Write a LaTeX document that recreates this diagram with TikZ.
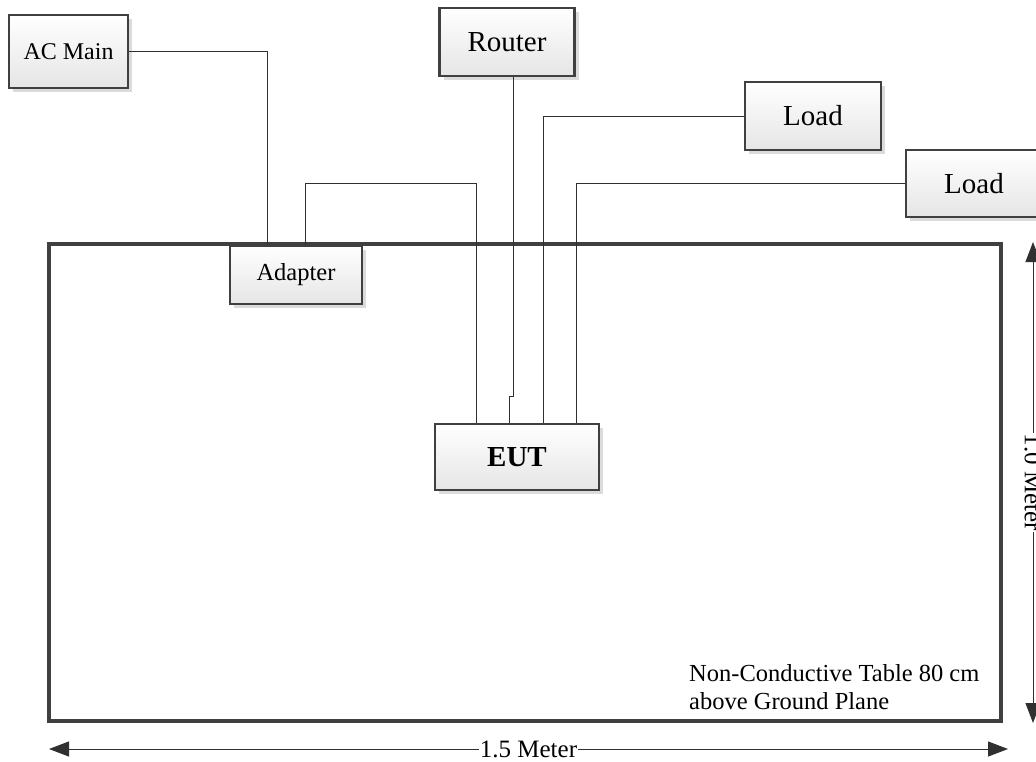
\documentclass[tikz,border=0pt]{standalone}
\usepackage{fontspec}
\setmainfont{Liberation Serif}
\usetikzlibrary{arrows.meta,calc,shadows}
\definecolor{edge}{HTML}{404040}
\definecolor{wirec}{HTML}{303030}
\tikzset{
  box/.style={draw=edge, line width=2.5pt, top color=white, bottom color=black!10,
    drop shadow={shadow xshift=4pt, shadow yshift=-4pt, fill=black!14, opacity=1},
    inner sep=0pt},
  wire/.style={draw=wirec, line width=1pt},
  dim/.style={draw=wirec, line width=1pt, {Triangle[length=20pt,width=15pt]}-{Triangle[length=20pt,width=15pt]}},
  dimlabel/.style={fill=white, inner sep=1pt, font=\fontsize{25}{28}\selectfont},
}
\begin{document}
\begin{tikzpicture}[x=1pt,y=-1pt]
\clip (0,0) rectangle (1036,761);
\fill[white] (0,0) rectangle (1036,761);
% table
\node[draw=edge, line width=3.5pt, minimum width=952pt, minimum height=477pt, inner sep=0pt] (table) at (525,482.5) {};
% boxes
\node[box, minimum width=119pt, minimum height=73pt, font=\fontsize{24}{28}\selectfont] (ac) at (68.5,51.5) {AC Main};
\node[box, minimum width=135pt, minimum height=68pt, font=\fontsize{29}{32}\selectfont] (router) at (507,42) {Router};
\node[box, minimum width=136pt, minimum height=68pt, font=\fontsize{29}{32}\selectfont] (load1) at (813,116) {Load};
\node[box, minimum width=136pt, minimum height=67pt, font=\fontsize{29}{32}\selectfont] (load2) at (974,183.5) {Load};
\node[box, minimum width=132pt, minimum height=58pt, font=\fontsize{24.5}{28}\selectfont] (adapter) at (296,275) {Adapter};
\node[box, minimum width=164pt, minimum height=66pt, font=\fontsize{29}{32}\selectfont\bfseries] (eut) at (517,457) {EUT};
% connection points
\coordinate (a1) at ($(adapter.north west)+(39,0)$);
\coordinate (a2) at ($(adapter.north west)+(77,0)$);
\coordinate (e1) at ($(eut.north west)+(43,0)$);
\coordinate (e2) at ($(eut.north west)+(76,0)$);
\coordinate (e3) at ($(eut.north west)+(110,0)$);
\coordinate (e4) at ($(eut.north west)+(143,0)$);
\coordinate (r1) at ($(router.south)+(6,0)$);
\coordinate (j) at ($(e2)+(0,-26)$);
% wires
\draw[wire] (ac.east) -| (a1);
\draw[wire] (a2) -- ++(0,-61) -| (e1);
\draw[wire] (r1) -- (r1 |- j) -| (e2);
\draw[wire] (e3) |- (load1.west);
\draw[wire] (e4) |- (load2.west);
% label
\node[anchor=north west, align=left, inner sep=0pt, font=\fontsize{24.5}{28}\selectfont] (tlabel) at (689,664) {Non-Conductive Table 80 cm\\above Ground Plane};
% dimensions
\coordinate (hl) at (49,749);
\coordinate (hr) at (1008,749);
\coordinate (vt) at (1033,242);
\coordinate (vb) at (1033,723);
\draw[dim] (hl) -- node[dimlabel] (hlab) {1.5 Meter} (hr);
\draw[dim] (vt) -- node[dimlabel, rotate=-90] (vlab) {1.0 Meter} (vb);
\end{tikzpicture}
\end{document}
